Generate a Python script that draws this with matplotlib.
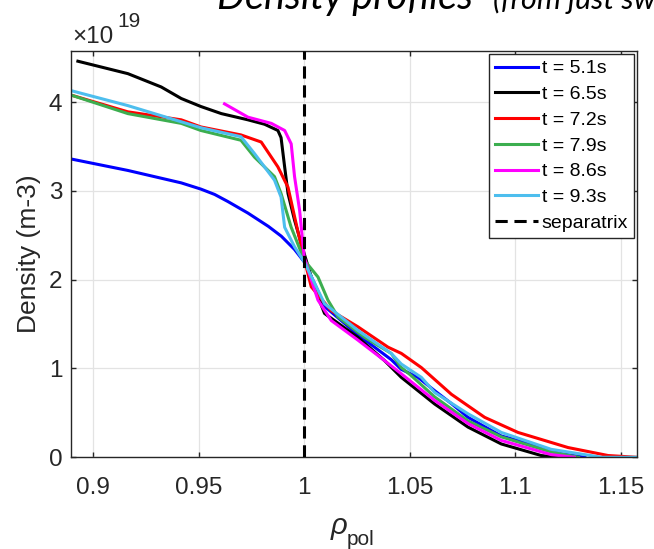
import numpy as np
import matplotlib as mpl
mpl.use("Agg")
import matplotlib.pyplot as plt

mpl.rcParams['font.family'] = ['Liberation Sans', 'DejaVu Sans']

# ---------------------- data (density in 1e19 m-3) ----------------------
labels = ["t = 5.1s", "t = 6.5s", "t = 7.2s", "t = 7.9s", "t = 8.6s", "t = 9.3s"]
colors = ["#0000ff", "#000000", "#ff0000", "#3cae4f", "#ff00ff", "#4dbeee"]

rho_51 = [0.8893, 0.9164, 0.9417, 0.951, 0.9575, 0.9638, 0.9733, 0.9830, 0.9891, 0.9954,
          1.000, 1.0050, 1.0096, 1.0254, 1.0412, 1.046, 1.0539, 1.0618, 1.0700, 1.0776,
          1.0934, 1.1013, 1.117, 1.1218, 1.133]
ne_51 = [3.36, 3.23, 3.09, 3.02, 2.96, 2.88, 2.75, 2.60, 2.49, 2.34,
         2.20, 1.95, 1.70, 1.38, 1.10, 0.99, 0.90, 0.75, 0.60, 0.45,
         0.24, 0.19, 0.08, 0.04, 0.0]

rho_65 = [0.8927, 0.9164, 0.9322, 0.9417, 0.951, 0.9607, 0.9733, 0.9812, 0.9875, 0.989,
          0.9907, 0.9923, 0.9954, 1.0, 1.0050, 1.0096, 1.0254, 1.038, 1.046, 1.0618,
          1.0776, 1.0934, 1.1123, 1.12]
ne_65 = [4.46, 4.32, 4.17, 4.04, 3.95, 3.87, 3.80, 3.75, 3.68, 3.60,
         3.27, 2.97, 2.67, 2.29, 1.90, 1.62, 1.35, 1.09, 0.90, 0.60,
         0.34, 0.15, 0.02, 0.0]

rho_72 = [0.8893, 0.9164, 0.9417, 0.951, 0.970, 0.9796, 0.9875, 0.9923, 0.9954, 0.9994,
          1.0033, 1.0128, 1.0254, 1.0397, 1.046, 1.0555, 1.0697, 1.0855, 1.1013, 1.125,
          1.144, 1.1577]
ne_72 = [4.08, 3.89, 3.80, 3.72, 3.63, 3.55, 3.27, 3.04, 2.71, 2.29,
         1.92, 1.65, 1.47, 1.24, 1.17, 1.01, 0.71, 0.45, 0.28, 0.11,
         0.02, 0.0]

rho_79 = [0.8893, 0.9164, 0.9417, 0.951, 0.970, 0.9764, 0.9859, 0.989, 0.9938, 1.0,
          1.0065, 1.0112, 1.016, 1.0286, 1.0412, 1.046, 1.0507, 1.0618, 1.0776, 1.0934,
          1.117, 1.13]
ne_79 = [4.08, 3.87, 3.76, 3.68, 3.57, 3.38, 3.16, 2.97, 2.59, 2.22,
         2.03, 1.77, 1.58, 1.35, 1.17, 1.01, 0.92, 0.68, 0.41, 0.23,
         0.06, 0.0]

rho_86 = [0.9622, 0.9733, 0.9844, 0.9907, 0.9938, 0.9954, 0.9978, 1.0, 1.0033, 1.0065,
          1.0128, 1.0254, 1.038, 1.046, 1.0618, 1.0776, 1.0934, 1.117, 1.128]
ne_86 = [3.98, 3.83, 3.76, 3.68, 3.53, 3.16, 2.78, 2.25, 2.00, 1.77,
         1.54, 1.32, 1.09, 0.94, 0.64, 0.38, 0.19, 0.03, 0.0]

rho_93 = [0.8893, 0.9164, 0.9512, 0.970, 0.9764, 0.9859, 0.989, 0.9907, 0.9954, 1.0,
          1.0096, 1.0254, 1.0412, 1.046, 1.0555, 1.0618, 1.0776, 1.0934, 1.117, 1.141,
          1.1577]
ne_93 = [4.13, 3.96, 3.71, 3.61, 3.42, 3.12, 2.93, 2.59, 2.37, 2.20,
         1.73, 1.43, 1.17, 1.05, 0.90, 0.73, 0.49, 0.28, 0.09, 0.0,
         0.0]

separatrix = 1.0
xticks = [0.9, 0.95, 1.0, 1.05, 1.1, 1.15]
xticklabels = ["0.9", "0.95", "1", "1.05", "1.1", "1.15"]
yticks = [0, 1, 2, 3, 4]

series = [(rho_51, ne_51), (rho_65, ne_65), (rho_72, ne_72),
          (rho_79, ne_79), (rho_86, ne_86), (rho_93, ne_93)]
# ----------------------------------------------------------

W, H = 654, 549
fig = plt.figure(figsize=(W / 100, H / 100), dpi=100)
ax = fig.add_axes([70.7 / W, 1 - 457.3 / H, (637 - 70.7) / W, (457.3 - 51) / H])

for (x, y), c, lab in zip(series, colors, labels):
    ax.plot(x, y, color=c, lw=2.2, label=lab, solid_joinstyle='round')
ax.axvline(separatrix, color='k', lw=2.2, ls=(0, (4, 2.2)), label='separatrix', zorder=5)

ax.set_xlim(0.8893, 1.1577)
ax.set_ylim(0, 4.575)
ax.set_xticks(xticks)
ax.set_xticklabels(xticklabels)
ax.set_yticks(yticks)
ax.grid(True, color='#e3e3e3', lw=0.9)
ax.set_axisbelow(True)
for s in ax.spines.values():
    s.set_color('#262626')
    s.set_linewidth(1.0)
ax.tick_params(direction='in', length=3.5, width=1.0, colors='#262626',
               labelsize=17.5, top=True, right=True)
ax.tick_params(axis='x', pad=14)
ax.tick_params(axis='y', pad=6)

ax.set_ylabel("Density (m-3)", fontsize=19, color='#262626')
ax.yaxis.set_label_coords((41 - 70.7) / (637 - 70.7), 0.5)

# x label: rho with a low subscript, as in the original
fig.text(339 / W, 1 - 526 / H, "\u03c1", fontsize=21, style='italic',
         ha='center', va='center', color='#262626')
fig.text(347 / W, 1 - 545 / H, "pol", fontsize=15,
         ha='left', va='baseline', color='#262626')

fig.text(72 / W, 1 - 43 / H, "\u00d710", fontsize=17.5, color='#262626', va='baseline')
fig.text(117 / W, 1 - 27 / H, "19", fontsize=15, color='#262626', va='baseline')

leg = ax.legend(loc='upper right', bbox_to_anchor=(1.0, 1.0), fontsize=14,
                frameon=True, fancybox=False, framealpha=1, edgecolor='#262626',
                handlelength=2.2, handletextpad=0.2, labelspacing=0.42,
                borderpad=0.3, borderaxespad=0.15)
leg.get_frame().set_linewidth(1.0)

# title, partly cut off at the top and right of the picture
fig.text(217 / W, 1 - 9.5 / H, "Density profiles", fontsize=28.5, family='Lato',
         style='italic', va='baseline', color='k')
fig.text(493 / W, 1 - 9.5 / H, "(from just sw", fontsize=22, family='Lato',
         style='italic', va='baseline', color='k')

fig.savefig("out.png", dpi=100)
